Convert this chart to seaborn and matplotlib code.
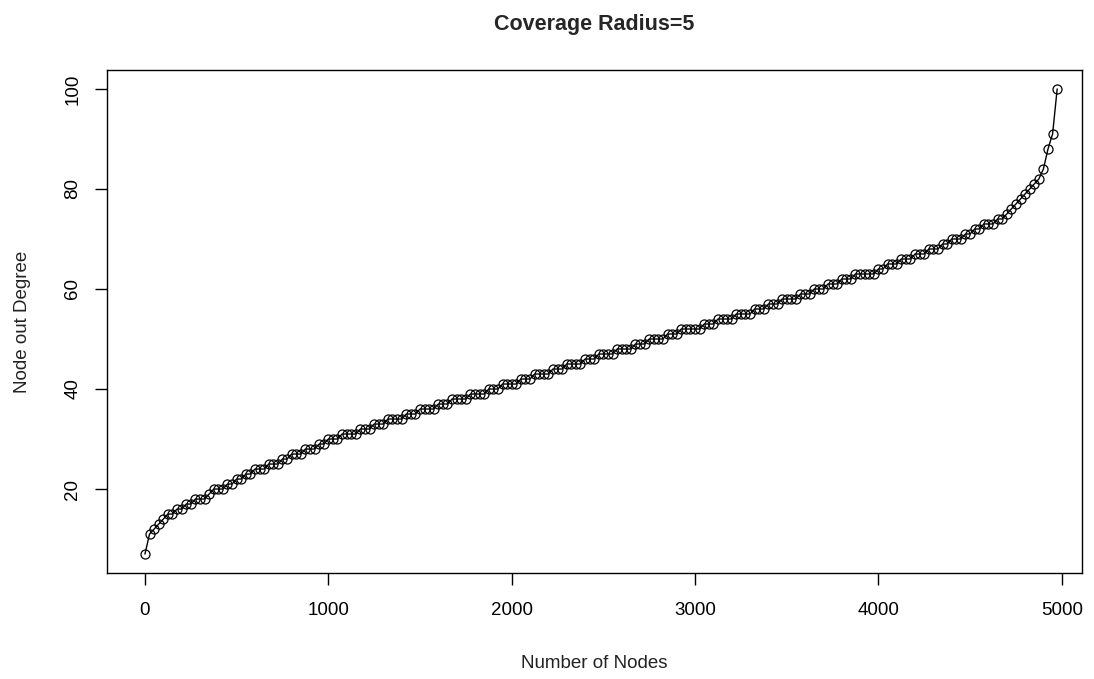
import numpy as np
import pandas as pd
import matplotlib
matplotlib.use("Agg")
import matplotlib.pyplot as plt
import seaborn as sns

# sampled node index (every 25th node)
nodes = list(range(0, 5000, 25))

# out degree (sorted)
deg_0_1000 = [7, 11, 12, 13, 14, 15, 15, 16, 16, 17, 17, 18, 18, 18, 19, 20, 20, 20, 21, 21,
              22, 22, 23, 23, 24, 24, 24, 25, 25, 25, 26, 26, 27, 27, 27, 28, 28, 28, 29, 29]
deg_1000_2000 = [30, 30, 30, 31, 31, 31, 31, 32, 32, 32, 33, 33, 33, 34, 34, 34, 34, 35, 35, 35,
                 36, 36, 36, 36, 37, 37, 37, 38, 38, 38, 38, 39, 39, 39, 39, 40, 40, 40, 41, 41]
deg_2000_3000 = [41, 41, 42, 42, 42, 43, 43, 43, 43, 44, 44, 44, 45, 45, 45, 45, 46, 46, 46, 47,
                 47, 47, 47, 48, 48, 48, 48, 49, 49, 49, 50, 50, 50, 50, 51, 51, 51, 52, 52, 52]
deg_3000_4000 = [52, 52, 53, 53, 53, 54, 54, 54, 54, 55, 55, 55, 55, 56, 56, 56, 57, 57, 57, 58,
                 58, 58, 58, 59, 59, 59, 60, 60, 60, 61, 61, 61, 62, 62, 62, 63, 63, 63, 63, 63]
deg_4000_5000 = [64, 64, 65, 65, 65, 66, 66, 66, 67, 67, 67, 68, 68, 68, 69, 69, 70, 70, 70, 71,
                 71, 72, 72, 73, 73, 73, 74, 74, 75, 76, 77, 78, 79, 80, 81, 82, 84, 88, 91, 100]
degree = deg_0_1000 + deg_1000_2000 + deg_2000_3000 + deg_3000_4000 + deg_4000_5000

df = pd.DataFrame({"nodes": nodes, "degree": degree})

sns.set_style("white")
plt.rcParams["font.family"] = ["Liberation Sans", "DejaVu Sans"]

fig = plt.figure(figsize=(10.94, 6.79), dpi=100)
ax = fig.add_axes([0.0978, 0.156, 0.891, 0.741])

sns.lineplot(data=df, x="nodes", y="degree", ax=ax, color="black", linewidth=1,
             marker="o", markersize=6.5, markerfacecolor="none", markeredgecolor="black",
             markeredgewidth=0.9)

ax.set_xlim(-207, 5109)
ax.set_ylim(3.2, 103.8)
ax.set_xticks([0, 1000, 2000, 3000, 4000, 5000])
ax.set_yticks([20, 40, 60, 80, 100])
ax.tick_params(axis="both", direction="out", length=8.5, width=1, labelsize=13.5,
               bottom=True, left=True, colors="black")
ax.tick_params(axis="x", pad=12)
ax.tick_params(axis="y", pad=10)
for lab in ax.get_yticklabels():
    lab.set_rotation(90)
    lab.set_va("center")

for s in ax.spines.values():
    s.set_color("black")
    s.set_linewidth(1)

ax.set_xlabel("Number of Nodes", fontsize=13.5, labelpad=26, color="#222222")
ax.set_ylabel("Node out Degree", fontsize=13.5, labelpad=24, color="#222222")
ax.set_title("Coverage Radius=5", fontsize=15.5, fontweight="bold", pad=29)

fig.savefig("out.png", dpi=100)
